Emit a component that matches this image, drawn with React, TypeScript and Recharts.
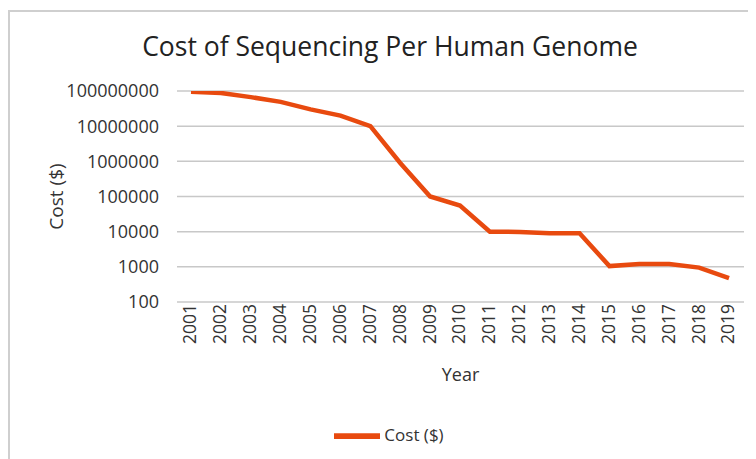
import { CartesianGrid, Legend, Line, LineChart, XAxis, YAxis } from "recharts"

const years = [
  "2001", "2002", "2003", "2004", "2005", "2006", "2007", "2008", "2009", "2010",
  "2011", "2012", "2013", "2014", "2015", "2016", "2017", "2018", "2019",
]

const costs = [
  95000000, 88000000, 67000000, 49000000, 30000000, 20000000, 10000000, 900000, 100000, 55000,
  10000, 9800, 9000, 9000, 1050, 1200, 1200, 950, 480,
]

const yTicks = [100, 1000, 10000, 100000, 1000000, 10000000, 100000000]

const data = years.map((year, i) => ({ year, cost: costs[i] }))

const font = "'Open Sans', sans-serif"
const lineColor = "#e84a0f"

export default function App() {
  return (
    <div
      style={{
        position: "relative",
        top: 2,
        left: 0,
        width: 748,
        height: 449,
        borderTop: "2px solid #cfcfcf",
        borderLeft: "2px solid #cfcfcf",
        fontFamily: font,
        background: "#fff",
      }}
    >
      <div
        style={{
          position: "absolute",
          top: 16,
          left: 0,
          width: 760,
          textAlign: "center",
          fontSize: 26.5,
          color: "#222",
          paddingRight: 2,
        }}
      >
        Cost of Sequencing Per Human Genome
      </div>
      <LineChart
        width={746}
        height={447}
        data={data}
        margin={{ top: 79, right: 12, left: 0, bottom: 16 }}
        style={{ fontFamily: font }}
      >
        <CartesianGrid vertical={false} stroke="#c8c8c8" strokeWidth={1.5} />
        <XAxis
          dataKey="year"
          axisLine={false}
          tickLine={false}
          padding={{ left: 14, right: 15 }}
          interval={0}
          angle={-90}
          textAnchor="end"
          dy={-6}
          dx={-7}
          tick={{ fill: "#333", fontSize: 17.5 }}
          height={111}
          label={{ value: "Year", position: "insideTop", offset: 66, fill: "#333", fontSize: 18 }}
        />
        <YAxis
          scale="log"
          type="number"
          domain={[100, 100000000]}
          ticks={yTicks}
          allowDataOverflow
          axisLine={false}
          tickLine={false}
          tickSize={0}
          tickMargin={18}
          width={167}
          tick={{ fill: "#333", fontSize: 18 }}
          label={{
            value: "Cost ($)",
            angle: -90,
            position: "insideLeft",
            offset: 46,
            fill: "#333",
            fontSize: 19,
            style: { textAnchor: "middle" },
          }}
        />
        <Legend
          verticalAlign="bottom"
          height={30}
          iconType="plainline"
          iconSize={46}
          wrapperStyle={{ fontSize: 17, color: "#333", paddingLeft: 17 }}
          formatter={(value) => <span style={{ color: "#333" }}>{value}</span>}
        />
        <Line
          type="linear"
          dataKey="cost"
          name="Cost ($)"
          stroke={lineColor}
          strokeWidth={4.5}
          dot={false}
          activeDot={false}
          isAnimationActive={false}
        />
      </LineChart>
    </div>
  )
}
